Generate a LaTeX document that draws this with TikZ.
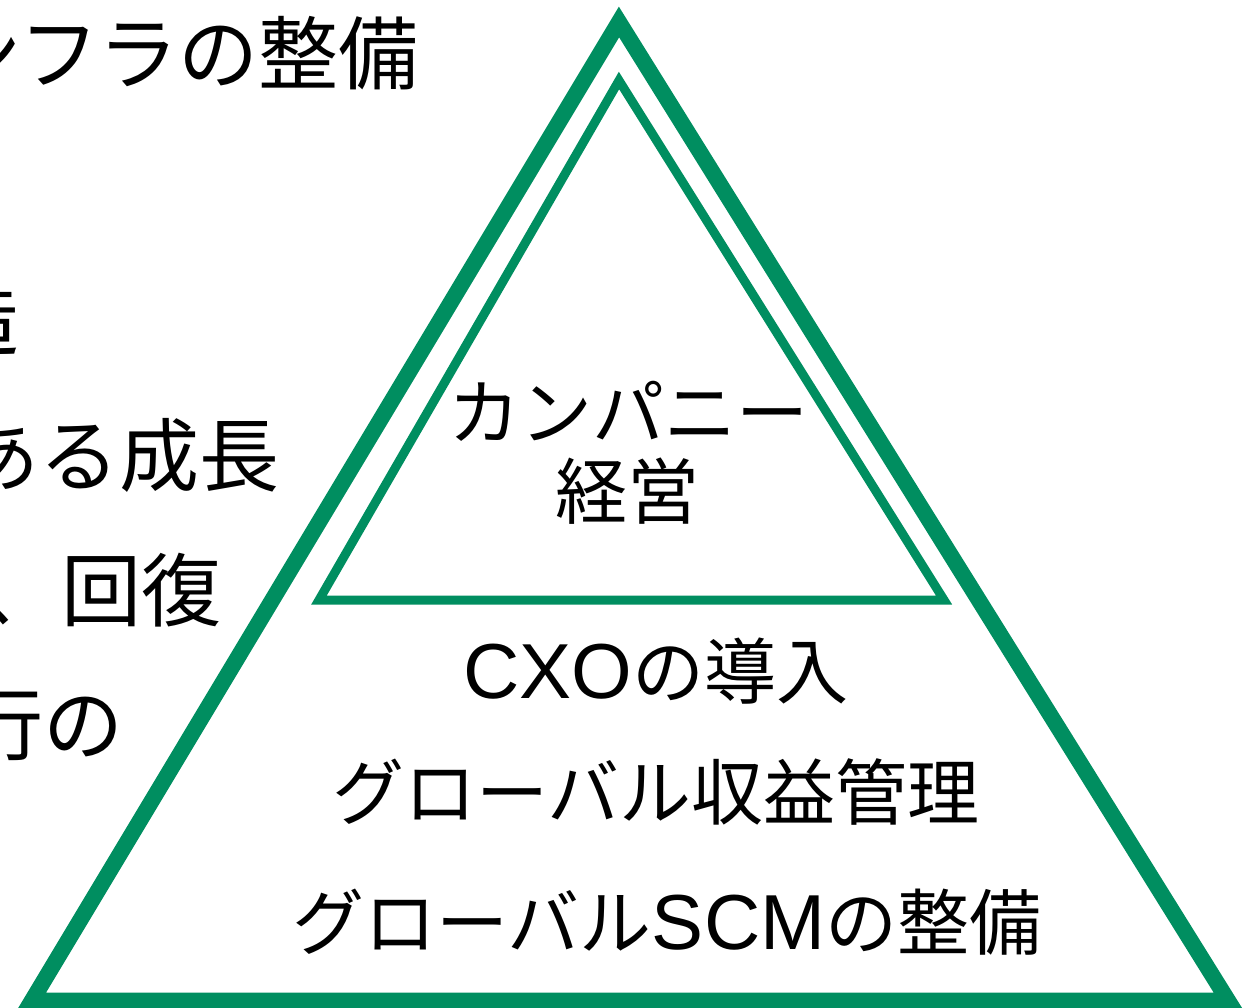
\documentclass[tikz,border=0pt]{standalone}
\usepackage{fontspec}
\newfontfamily\jpfont{Noto Sans CJK JP}
\newfontfamily\latfont{Liberation Sans}
\definecolor{pgreen}{RGB}{0,142,96}
\newcommand{\latw}[1]{{\latfont\fontsize{78}{80}\selectfont #1}}
\begin{document}
\begin{tikzpicture}[x=1pt,y=-1pt,
  txt/.style={inner sep=0pt,outer sep=0pt,font=\jpfont\fontsize{72}{80}\selectfont},
  lefttxt/.style={inner sep=0pt,outer sep=0pt,anchor=base east,font=\jpfont\fontsize{80}{88}\selectfont},
  outertri/.style={draw=pgreen,line width=16pt,line join=miter,miter limit=10},
  innertri/.style={draw=pgreen,line width=9pt,line join=miter,miter limit=10}]
\useasboundingbox (0,0) rectangle (1250,1008);
\clip (0,0) rectangle (1250,1008);
% left, cut-off text
\node[lefttxt] (l1) at (419,84) {ンフラの整備};
\node[lefttxt] (l2) at (20,349) {造};
\node[lefttxt] (l3) at (280,485) {ある成長};
\node[lefttxt] (l4) at (222,620) {、回復};
\node[lefttxt] (l5) at (124,754) {行の};
% triangles
\draw[outertri] (619,22) -- (32,1000.5) -- (1228,1000.5) -- cycle;
\draw[innertri] (619,80.5) -- (319,600) -- (944,600) -- cycle;
% texts
\node[txt,anchor=base] (t1) at (628,439) {カンパニー};
\node[txt,anchor=base] (t2) at (627,518) {経営};
\node[txt,anchor=base] (t3) at (656,698) {\latw{CXO}の導入};
\node[txt,anchor=base] (t4) at (656,819) {グローバル収益管理};
\node[txt,anchor=base] (t5) at (667,949) {グローバル\latw{SCM}の整備};
\end{tikzpicture}
\end{document}
